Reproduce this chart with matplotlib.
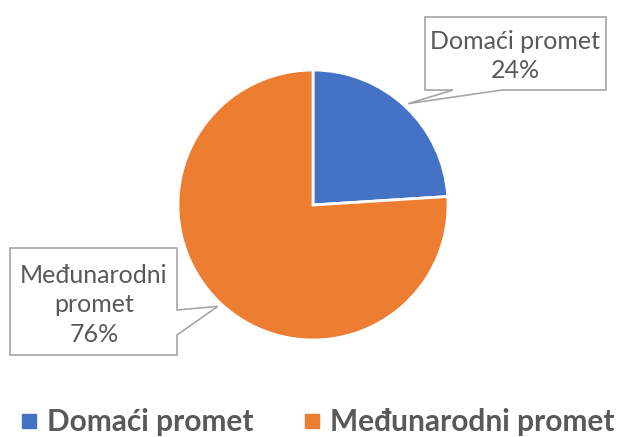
import numpy as np
import matplotlib.pyplot as plt
from matplotlib.patches import Polygon
from matplotlib.lines import Line2D

plt.rcParams['font.family'] = ['Lato', 'DejaVu Sans']

labels = ['Domaći promet', 'Međunarodni promet']
box_labels = ['Domaći promet\n24%', 'Međunarodni\npromet\n76%']
values = [24, 76]
colors = ['#4472C4', '#ED7D31']
grey = '#595959'

W, H = 619, 437
fig = plt.figure(figsize=(W / 100, H / 100), dpi=100)
ax = fig.add_axes([0, 0, 1, 1])

cx, cy, r = 313, 232, 135
wedges, _ = ax.pie(values, startangle=90, counterclock=False, colors=colors,
                   center=(cx, cy), radius=r,
                   wedgeprops=dict(edgecolor='white', linewidth=2))
ax.set_xlim(0, W)
ax.set_ylim(0, H)
ax.set_aspect('equal')
ax.axis('off')

# callout boxes: (left, right, bottom, top), pointer base, text centre
boxes = [
    dict(box=(425, 606, 347, 420), base=[(502, 347), (453, 347)], side='bottom', txt=(515, 381)),
    dict(box=(10, 177, 82, 189), base=[(177, 127), (177, 102)], side='right', txt=(94, 132)),
]

for w, b, lab in zip(wedges, boxes, box_labels):
    mid = np.deg2rad((w.theta1 + w.theta2) / 2)
    tip = (cx + 1.03 * r * np.cos(mid), cy + 1.03 * r * np.sin(mid))
    l, rr, bo, t = b['box']
    if b['side'] == 'bottom':
        pts = [(l, t), (rr, t), (rr, bo), b['base'][0], tip, b['base'][1], (l, bo)]
    else:
        pts = [(l, t), (rr, t), b['base'][0], tip, b['base'][1], (rr, bo), (l, bo)]
    ax.add_patch(Polygon(pts, closed=True, facecolor='white', edgecolor='#a6a6a6',
                         linewidth=1.2, zorder=5))
    ax.text(b['txt'][0], b['txt'][1], lab, ha='center', va='center', fontsize=18,
            color=grey, linespacing=1.35, zorder=6)

handles = [Line2D([], [], marker='s', linestyle='', markersize=10, color=c) for c in colors]
fig.legend(handles, labels, loc='center', bbox_to_anchor=(0.514, 15 / H), ncol=2,
           frameon=False, prop=dict(weight='bold', size=21.5), labelcolor=grey,
           handlelength=0.5, handletextpad=0.35, columnspacing=1.7,
           borderpad=0, borderaxespad=0)

fig.savefig('out.png', dpi=100)
